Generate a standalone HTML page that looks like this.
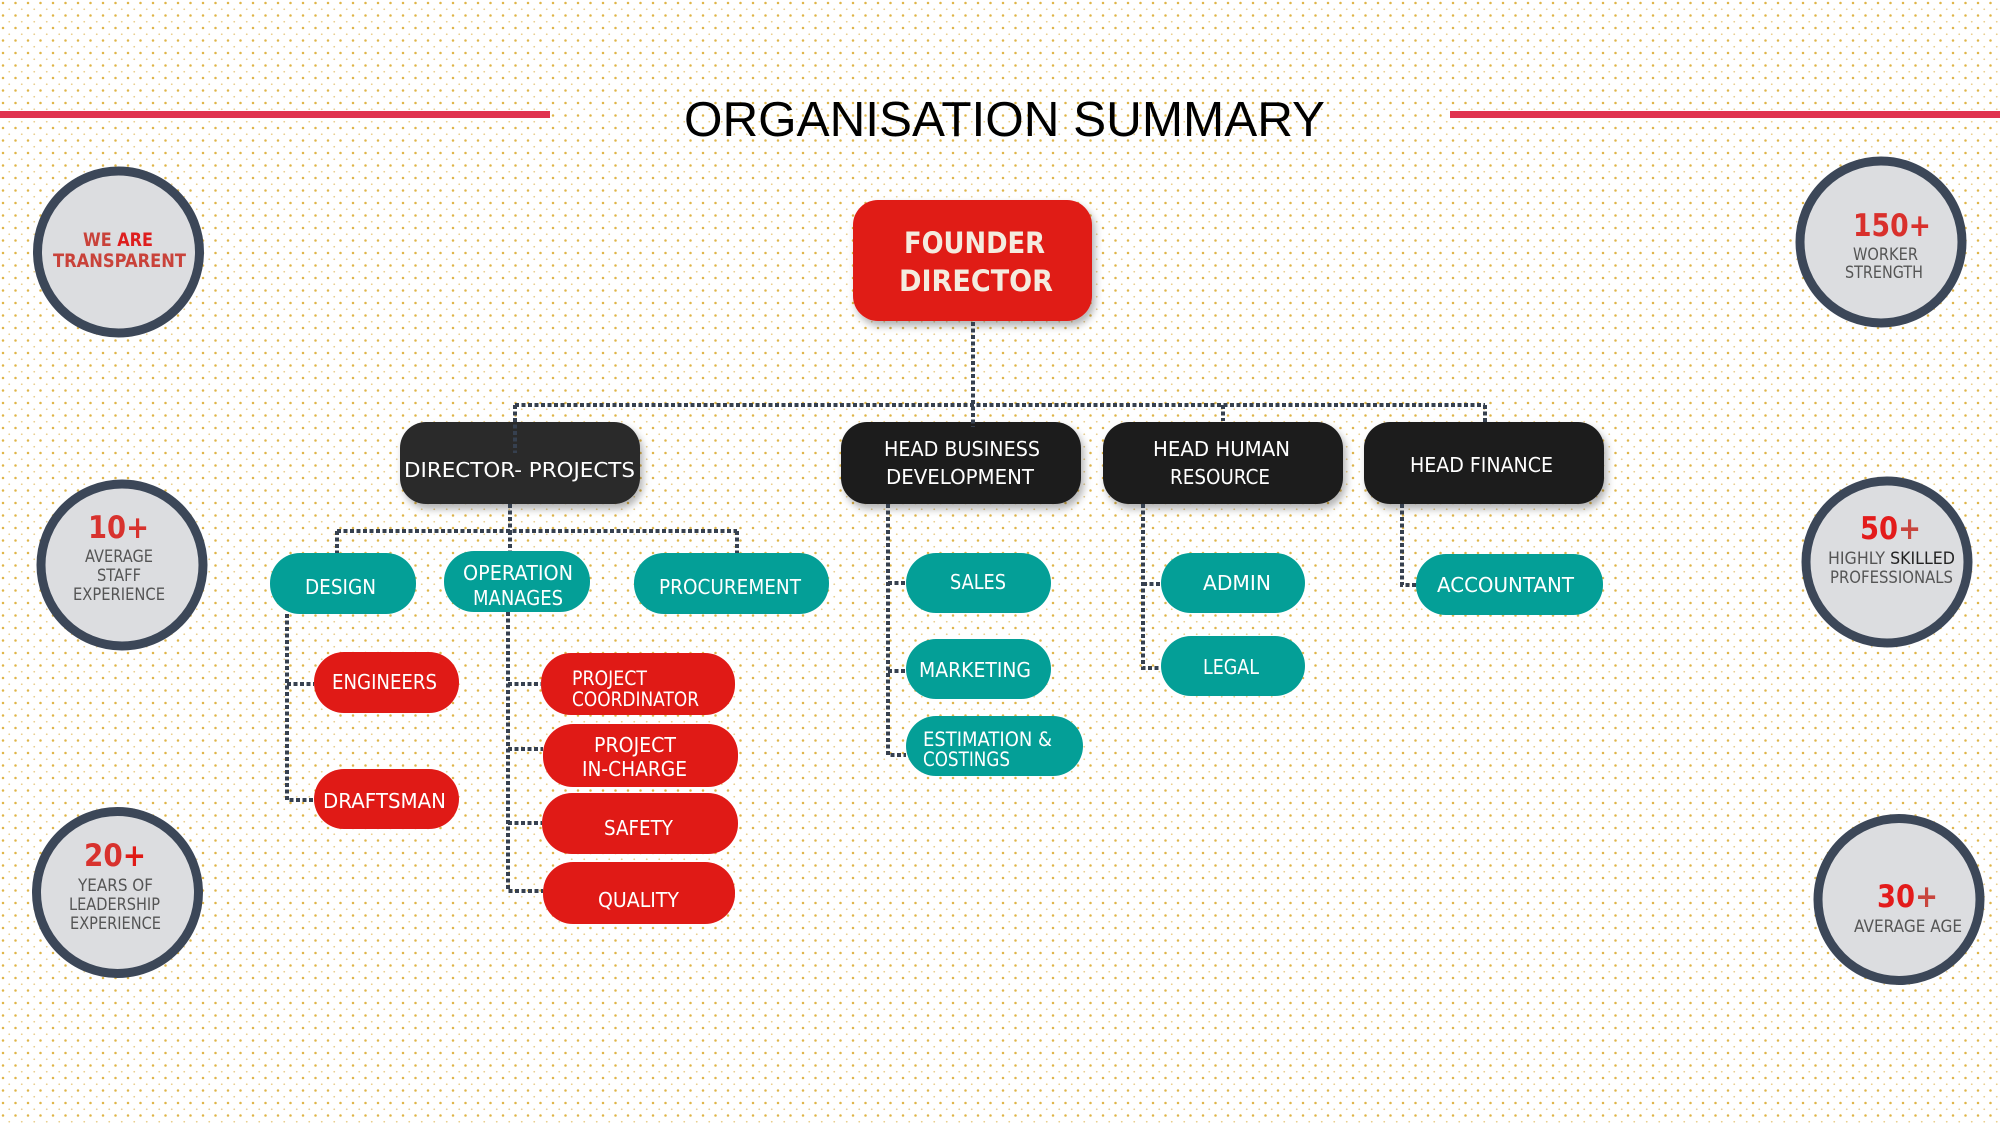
<!DOCTYPE html>
<html>
<head>
<meta charset="utf-8">
<style>
  html,body{margin:0;padding:0;background:#fff;}
  svg{display:block;}
  .lbl{font-family:"DejaVu Sans","Liberation Sans",sans-serif;fill:#ffffff;}
  .ct{font-family:"DejaVu Sans","Liberation Sans",sans-serif;fill:#555555;}
  .cn{font-family:"DejaVu Sans","Liberation Sans",sans-serif;font-weight:bold;}
  .conn{fill:none;stroke:#36404f;stroke-width:4;stroke-dasharray:4 2.5;}
</style>
</head>
<body>
<svg width="2000" height="1125" viewBox="0 0 2000 1125" xmlns="http://www.w3.org/2000/svg">
  <defs>
    <pattern id="dots" x="0" y="0" width="12.5" height="12.5" patternUnits="userSpaceOnUse">
      <circle cx="3" cy="3" r="1.25" fill="#dfb548"/>
      <circle cx="9.25" cy="9.25" r="0.9" fill="#e9cd8a"/>
    </pattern>
    <filter id="sh" x="-20%" y="-20%" width="140%" height="160%">
      <feDropShadow dx="3" dy="5" stdDeviation="4" flood-color="#000" flood-opacity="0.3"/>
    </filter>
  </defs>

  <rect x="0" y="0" width="2000" height="1125" fill="#ffffff"/>
  <rect x="0" y="0" width="2000" height="1125" fill="url(#dots)"/>

  <!-- Title + red lines -->
  <rect x="0" y="111" width="550" height="7" fill="#e03350"/>
  <rect x="1450" y="111" width="550" height="7" fill="#e03350"/>
  <text x="684" y="136" font-family="Liberation Sans, Arial, sans-serif" font-size="49" fill="#000" textLength="641" lengthAdjust="spacingAndGlyphs">ORGANISATION SUMMARY</text>

  <!-- Circles -->
  <g fill="#dcdde0" stroke="#3c4758" stroke-width="9">
    <circle cx="118.5" cy="252" r="81"/>
    <circle cx="122" cy="565" r="81"/>
    <circle cx="117.5" cy="892.5" r="81"/>
    <circle cx="1881" cy="242" r="81"/>
    <circle cx="1887" cy="562" r="81"/>
    <circle cx="1899" cy="899.5" r="81"/>
  </g>

  <!-- Circle 1 -->
  <text class="cn" x="83" y="246" font-size="19" textLength="70" lengthAdjust="spacingAndGlyphs"><tspan fill="#c9423a">WE </tspan><tspan fill="#de1e1e">ARE</tspan></text>
  <text class="cn" x="53" y="267" font-size="19" fill="#c9423a" textLength="133" lengthAdjust="spacingAndGlyphs">TRANSPARENT</text>
  <!-- Circle 2 -->
  <text class="cn" x="88" y="538" font-size="31.5" fill="#d8322e" textLength="61" lengthAdjust="spacingAndGlyphs">10+</text>
  <text class="ct" x="85" y="562" font-size="17" textLength="68" lengthAdjust="spacingAndGlyphs">AVERAGE</text>
  <text class="ct" x="97" y="581" font-size="17" textLength="44" lengthAdjust="spacingAndGlyphs">STAFF</text>
  <text class="ct" x="73" y="600" font-size="17" textLength="92" lengthAdjust="spacingAndGlyphs">EXPERIENCE</text>
  <!-- Circle 3 -->
  <text class="cn" x="84" y="866" font-size="31.5" textLength="62" lengthAdjust="spacingAndGlyphs"><tspan fill="#d8322e">20</tspan><tspan fill="#e01a16">+</tspan></text>
  <text class="ct" x="78" y="891" font-size="17" textLength="75" lengthAdjust="spacingAndGlyphs">YEARS OF</text>
  <text class="ct" x="69" y="910" font-size="17" textLength="91" lengthAdjust="spacingAndGlyphs">LEADERSHIP</text>
  <text class="ct" x="70" y="929" font-size="17" textLength="91" lengthAdjust="spacingAndGlyphs">EXPERIENCE</text>
  <!-- Circle 4 -->
  <text class="cn" x="1853" y="236" font-size="31.5" fill="#d9302c" textLength="78" lengthAdjust="spacingAndGlyphs">150+</text>
  <text class="ct" x="1853" y="260" font-size="16.5" textLength="65" lengthAdjust="spacingAndGlyphs">WORKER</text>
  <text class="ct" x="1845" y="278" font-size="16.5" textLength="78" lengthAdjust="spacingAndGlyphs">STRENGTH</text>
  <!-- Circle 5 -->
  <text class="cn" x="1860" y="539" font-size="31.5" textLength="61" lengthAdjust="spacingAndGlyphs"><tspan fill="#e31b1b">50</tspan><tspan fill="#c8453d">+</tspan></text>
  <text class="ct" x="1828" y="564" font-size="16.5" textLength="127" lengthAdjust="spacingAndGlyphs">HIGHLY <tspan fill="#222">SKILLED</tspan></text>
  <text class="ct" x="1830" y="583" font-size="16.5" textLength="123" lengthAdjust="spacingAndGlyphs">PROFESSIONALS</text>
  <!-- Circle 6 -->
  <text class="cn" x="1877" y="907" font-size="31.5" textLength="61" lengthAdjust="spacingAndGlyphs"><tspan fill="#e31b1b">30</tspan><tspan fill="#c8453d">+</tspan></text>
  <text class="ct" x="1854" y="932" font-size="16.5" textLength="108" lengthAdjust="spacingAndGlyphs">AVERAGE AGE</text>

  <!-- Top-level boxes -->
  <rect x="853" y="200" width="239" height="121" rx="25" fill="#e01a16" filter="url(#sh)"/>
  <rect x="400" y="422" width="240" height="82" rx="26" fill="#2b2b2b" filter="url(#sh)"/>
  <rect x="841" y="422" width="240" height="82" rx="26" fill="#1e1e1e" filter="url(#sh)"/>
  <rect x="1103" y="422" width="240" height="82" rx="26" fill="#1e1e1e" filter="url(#sh)"/>
  <rect x="1364" y="422" width="240" height="82" rx="26" fill="#1e1e1e" filter="url(#sh)"/>

  <!-- Teal pills -->
  <g fill="#049f97">
    <rect x="270" y="553" width="146" height="61" rx="30"/>
    <rect x="444" y="551" width="146" height="61" rx="30"/>
    <rect x="634" y="553" width="195" height="61" rx="30"/>
    <rect x="906" y="553" width="145" height="60" rx="30"/>
    <rect x="906" y="639" width="145" height="60" rx="30"/>
    <rect x="906" y="716" width="177" height="60" rx="30"/>
    <rect x="1161" y="553" width="144" height="60" rx="30"/>
    <rect x="1161" y="636" width="144" height="60" rx="30"/>
    <rect x="1416" y="554" width="187" height="61" rx="30"/>
  </g>

  <!-- Red pills -->
  <g fill="#e01a16">
    <rect x="314" y="652" width="145" height="61" rx="30"/>
    <rect x="314" y="769" width="145" height="60" rx="30"/>
    <rect x="541" y="653" width="194" height="62" rx="30"/>
    <rect x="543" y="724" width="195" height="63" rx="30"/>
    <rect x="542" y="793" width="196" height="61" rx="30"/>
    <rect x="543" y="862" width="192" height="62" rx="30"/>
  </g>

  <!-- Connectors -->
  <path class="conn" d="M973 322 V427"/>
  <path class="conn" d="M515 405 H1485"/>
  <path class="conn" d="M515 405 V453"/>
  <path class="conn" d="M1223 405 V421"/>
  <path class="conn" d="M1485 405 V422"/>
  <path class="conn" d="M510 504 V531"/>
  <path class="conn" d="M337 531 H737"/>
  <path class="conn" d="M337 531 V553"/>
  <path class="conn" d="M510 531 V551"/>
  <path class="conn" d="M737 531 V553"/>
  <path class="conn" d="M287 614 V800 H314"/>
  <path class="conn" d="M287 684 H314"/>
  <path class="conn" d="M508 612 V891 H543"/>
  <path class="conn" d="M508 684 H541"/>
  <path class="conn" d="M508 749 H543"/>
  <path class="conn" d="M508 823 H542"/>
  <path class="conn" d="M888 504 V755 H906"/>
  <path class="conn" d="M888 583 H906"/>
  <path class="conn" d="M888 671 H906"/>
  <path class="conn" d="M1143 504 V668 H1161"/>
  <path class="conn" d="M1143 584 H1161"/>
  <path class="conn" d="M1402 504 V585 H1416"/>

  <!-- Labels -->
  <text class="lbl" x="904" y="253" font-size="29" font-weight="bold" style="fill:#f4ebdf" textLength="141" lengthAdjust="spacingAndGlyphs">FOUNDER</text>
  <text class="lbl" x="899" y="291" font-size="29" font-weight="bold" style="fill:#f4ebdf" textLength="154" lengthAdjust="spacingAndGlyphs">DIRECTOR</text>

  <text class="lbl" x="404" y="477" font-size="20.5" textLength="231" lengthAdjust="spacingAndGlyphs">DIRECTOR- PROJECTS</text>
  <text class="lbl" x="884" y="456" font-size="20.5" textLength="156" lengthAdjust="spacingAndGlyphs">HEAD BUSINESS</text>
  <text class="lbl" x="886" y="484" font-size="20.5" textLength="148" lengthAdjust="spacingAndGlyphs">DEVELOPMENT</text>
  <text class="lbl" x="1153" y="456" font-size="20.5" textLength="137" lengthAdjust="spacingAndGlyphs">HEAD HUMAN</text>
  <text class="lbl" x="1170" y="484" font-size="20.5" textLength="100" lengthAdjust="spacingAndGlyphs">RESOURCE</text>
  <text class="lbl" x="1410" y="472" font-size="20.5" textLength="143" lengthAdjust="spacingAndGlyphs">HEAD FINANCE</text>

  <text class="lbl" x="305" y="594" font-size="20.5" textLength="71" lengthAdjust="spacingAndGlyphs">DESIGN</text>
  <text class="lbl" x="463" y="580" font-size="20.5" textLength="110" lengthAdjust="spacingAndGlyphs">OPERATION</text>
  <text class="lbl" x="473" y="605" font-size="20.5" textLength="90" lengthAdjust="spacingAndGlyphs">MANAGES</text>
  <text class="lbl" x="659" y="594" font-size="20.5" textLength="142" lengthAdjust="spacingAndGlyphs">PROCUREMENT</text>
  <text class="lbl" x="950" y="589" font-size="20.5" textLength="56" lengthAdjust="spacingAndGlyphs">SALES</text>
  <text class="lbl" x="919" y="677" font-size="20.5" textLength="112" lengthAdjust="spacingAndGlyphs">MARKETING</text>
  <text class="lbl" x="923" y="746" font-size="19.5" textLength="129" lengthAdjust="spacingAndGlyphs">ESTIMATION &amp;</text>
  <text class="lbl" x="923" y="766" font-size="19.5" textLength="87" lengthAdjust="spacingAndGlyphs">COSTINGS</text>
  <text class="lbl" x="1203" y="590" font-size="20.5" textLength="68" lengthAdjust="spacingAndGlyphs">ADMIN</text>
  <text class="lbl" x="1203" y="674" font-size="20.5" textLength="56" lengthAdjust="spacingAndGlyphs">LEGAL</text>
  <text class="lbl" x="1437" y="592" font-size="20.5" textLength="137" lengthAdjust="spacingAndGlyphs">ACCOUNTANT</text>

  <text class="lbl" x="332" y="689" font-size="20.5" textLength="105" lengthAdjust="spacingAndGlyphs">ENGINEERS</text>
  <text class="lbl" x="323" y="808" font-size="20.5" textLength="123" lengthAdjust="spacingAndGlyphs">DRAFTSMAN</text>
  <text class="lbl" x="572" y="685" font-size="19.5" textLength="75" lengthAdjust="spacingAndGlyphs">PROJECT</text>
  <text class="lbl" x="572" y="706" font-size="19.5" textLength="127" lengthAdjust="spacingAndGlyphs">COORDINATOR</text>
  <text class="lbl" x="594" y="752" font-size="20.5" textLength="82" lengthAdjust="spacingAndGlyphs">PROJECT</text>
  <text class="lbl" x="582" y="776" font-size="20.5" textLength="105" lengthAdjust="spacingAndGlyphs">IN-CHARGE</text>
  <text class="lbl" x="604" y="835" font-size="20.5" textLength="69" lengthAdjust="spacingAndGlyphs">SAFETY</text>
  <text class="lbl" x="598" y="907" font-size="20.5" textLength="81" lengthAdjust="spacingAndGlyphs">QUALITY</text>
</svg>
</body>
</html>
